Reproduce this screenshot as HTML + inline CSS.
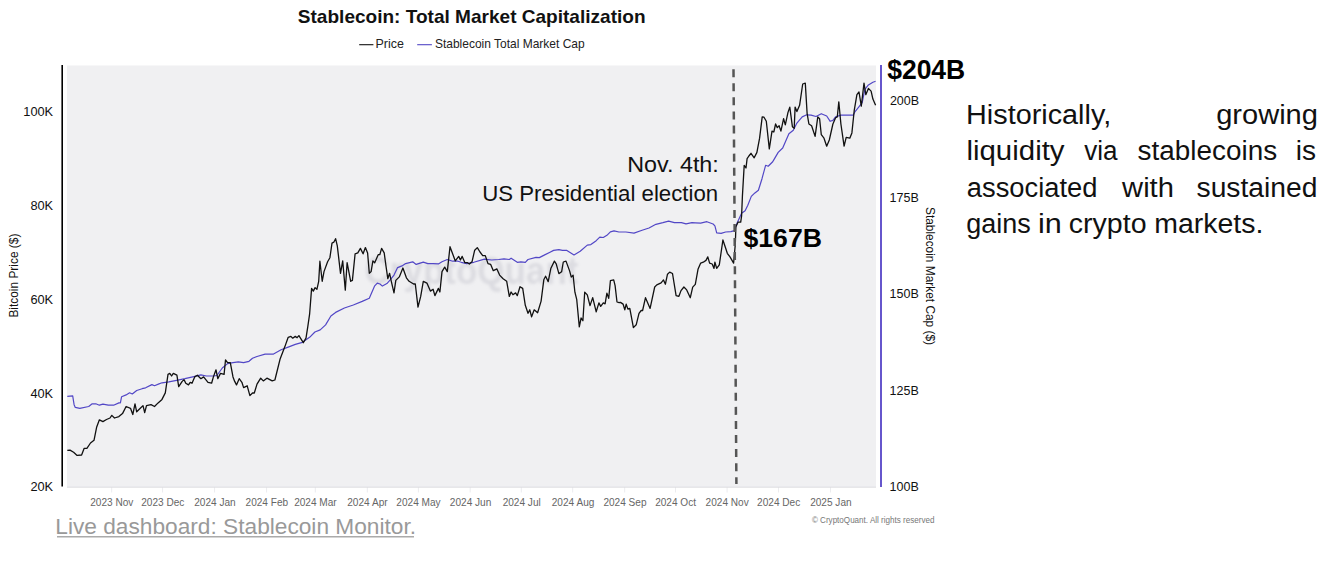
<!DOCTYPE html>
<html><head><meta charset="utf-8"><style>
html,body{margin:0;padding:0;background:#fff;width:1326px;height:562px;overflow:hidden}
svg{position:absolute;left:0;top:0;font-family:"Liberation Sans", sans-serif}
</style></head><body>
<svg width="1326" height="562" viewBox="0 0 1326 562">
<rect x="67" y="65.5" width="809" height="421.5" fill="#f0f0f2"/>
<defs><filter id="bl" x="-10%" y="-50%" width="120%" height="200%"><feGaussianBlur stdDeviation="1.8"/></filter></defs>
<text x="364.60" y="284" font-size="38" font-weight="bold" fill="#dcdce1" textLength="213.87" lengthAdjust="spacingAndGlyphs" filter="url(#bl)">CryptoQuant</text>
<line x1="111.7" y1="487" x2="111.7" y2="492.5" stroke="#ececef" stroke-width="1"/>
<text x="90.20" y="506" font-size="11.8" font-weight="normal" fill="#666" textLength="43.14" lengthAdjust="spacingAndGlyphs" >2023 Nov</text>
<line x1="162.6" y1="487" x2="162.6" y2="492.5" stroke="#ececef" stroke-width="1"/>
<text x="141.22" y="506" font-size="11.8" font-weight="normal" fill="#666" textLength="43.14" lengthAdjust="spacingAndGlyphs" >2023 Dec</text>
<line x1="214.6" y1="487" x2="214.6" y2="492.5" stroke="#ececef" stroke-width="1"/>
<text x="194.24" y="506" font-size="11.8" font-weight="normal" fill="#666" textLength="41.47" lengthAdjust="spacingAndGlyphs" >2024 Jan</text>
<line x1="266.6" y1="487" x2="266.6" y2="492.5" stroke="#ececef" stroke-width="1"/>
<text x="245.56" y="506" font-size="11.8" font-weight="normal" fill="#666" textLength="42.58" lengthAdjust="spacingAndGlyphs" >2024 Feb</text>
<line x1="315.3" y1="487" x2="315.3" y2="492.5" stroke="#ececef" stroke-width="1"/>
<text x="294.14" y="506" font-size="11.8" font-weight="normal" fill="#666" textLength="42.57" lengthAdjust="spacingAndGlyphs" >2024 Mar</text>
<line x1="367.3" y1="487" x2="367.3" y2="492.5" stroke="#ececef" stroke-width="1"/>
<text x="347.26" y="506" font-size="11.8" font-weight="normal" fill="#666" textLength="40.34" lengthAdjust="spacingAndGlyphs" >2024 Apr</text>
<line x1="418.4" y1="487" x2="418.4" y2="492.5" stroke="#ececef" stroke-width="1"/>
<text x="396.33" y="506" font-size="11.8" font-weight="normal" fill="#666" textLength="44.25" lengthAdjust="spacingAndGlyphs" >2024 May</text>
<line x1="470.2" y1="487" x2="470.2" y2="492.5" stroke="#ececef" stroke-width="1"/>
<text x="449.84" y="506" font-size="11.8" font-weight="normal" fill="#666" textLength="41.47" lengthAdjust="spacingAndGlyphs" >2024 Jun</text>
<line x1="521.3" y1="487" x2="521.3" y2="492.5" stroke="#ececef" stroke-width="1"/>
<text x="502.64" y="506" font-size="11.8" font-weight="normal" fill="#666" textLength="38.10" lengthAdjust="spacingAndGlyphs" >2024 Jul</text>
<line x1="572.7" y1="487" x2="572.7" y2="492.5" stroke="#ececef" stroke-width="1"/>
<text x="551.78" y="506" font-size="11.8" font-weight="normal" fill="#666" textLength="42.59" lengthAdjust="spacingAndGlyphs" >2024 Aug</text>
<line x1="624.7" y1="487" x2="624.7" y2="492.5" stroke="#ececef" stroke-width="1"/>
<text x="603.39" y="506" font-size="11.8" font-weight="normal" fill="#666" textLength="43.15" lengthAdjust="spacingAndGlyphs" >2024 Sep</text>
<line x1="675.5" y1="487" x2="675.5" y2="492.5" stroke="#ececef" stroke-width="1"/>
<text x="655.14" y="506" font-size="11.8" font-weight="normal" fill="#666" textLength="40.89" lengthAdjust="spacingAndGlyphs" >2024 Oct</text>
<line x1="727.1" y1="487" x2="727.1" y2="492.5" stroke="#ececef" stroke-width="1"/>
<text x="705.60" y="506" font-size="11.8" font-weight="normal" fill="#666" textLength="43.14" lengthAdjust="spacingAndGlyphs" >2024 Nov</text>
<line x1="778.5" y1="487" x2="778.5" y2="492.5" stroke="#ececef" stroke-width="1"/>
<text x="757.12" y="506" font-size="11.8" font-weight="normal" fill="#666" textLength="43.14" lengthAdjust="spacingAndGlyphs" >2024 Dec</text>
<line x1="830.5" y1="487" x2="830.5" y2="492.5" stroke="#ececef" stroke-width="1"/>
<text x="810.14" y="506" font-size="11.8" font-weight="normal" fill="#666" textLength="41.47" lengthAdjust="spacingAndGlyphs" >2025 Jan</text>
<line x1="67" y1="487.2" x2="876" y2="487.2" stroke="#dcdce0" stroke-width="1"/>
<line x1="62.2" y1="65" x2="62.2" y2="486.5" stroke="#000" stroke-width="1.6"/>
<line x1="881" y1="65" x2="881" y2="487" stroke="#6656cc" stroke-width="2"/>
<text x="23.27" y="116" font-size="12.8" font-weight="normal" fill="#111" textLength="29.89" lengthAdjust="spacingAndGlyphs" >100K</text>
<text x="30.38" y="209.75" font-size="12.8" font-weight="normal" fill="#111" textLength="22.78" lengthAdjust="spacingAndGlyphs" >80K</text>
<text x="30.38" y="303.5" font-size="12.8" font-weight="normal" fill="#111" textLength="22.78" lengthAdjust="spacingAndGlyphs" >60K</text>
<text x="30.38" y="397.5" font-size="12.8" font-weight="normal" fill="#111" textLength="22.78" lengthAdjust="spacingAndGlyphs" >40K</text>
<text x="30.38" y="491" font-size="12.8" font-weight="normal" fill="#111" textLength="22.78" lengthAdjust="spacingAndGlyphs" >20K</text>
<text x="889.88" y="105" font-size="12.5" font-weight="normal" fill="#111" textLength="29.19" lengthAdjust="spacingAndGlyphs" >200B</text>
<text x="889.56" y="201.5" font-size="12.5" font-weight="normal" fill="#111" textLength="29.19" lengthAdjust="spacingAndGlyphs" >175B</text>
<text x="889.56" y="298" font-size="12.5" font-weight="normal" fill="#111" textLength="29.19" lengthAdjust="spacingAndGlyphs" >150B</text>
<text x="889.56" y="394.6" font-size="12.5" font-weight="normal" fill="#111" textLength="29.19" lengthAdjust="spacingAndGlyphs" >125B</text>
<text x="889.56" y="491.1" font-size="12.5" font-weight="normal" fill="#111" textLength="29.19" lengthAdjust="spacingAndGlyphs" >100B</text>
<text transform="translate(17.8,275.6) rotate(-90)" font-size="12.2" fill="#111" text-anchor="middle" textLength="84" lengthAdjust="spacingAndGlyphs">Bitcoin Price ($)</text>
<text transform="translate(925.6,276) rotate(90)" font-size="12.2" fill="#111" text-anchor="middle" textLength="138" lengthAdjust="spacingAndGlyphs">Stablecoin Market Cap ($)</text>
<path d="M67.3,396.3 L72.7,395.8 L74.1,404.7 L75.3,407.4 L79.8,408.3 L88.7,406.5 L92.2,403.8 L95.8,403.8 L99.4,405.2 L102.9,404.2 L108.3,405.2 L113.6,405.2 L118.9,402.9 L120.4,402.9 L121.6,396.7 L126.1,394.9 L129.6,392.8 L132.3,394.0 L136.7,390.5 L142.1,388.7 L145.6,387.8 L151.9,384.6 L154.5,385.7 L159.0,383.9 L162.0,382.8 L168.9,381.9 L177.8,380.1 L184.9,378.7 L193.8,376.6 L200.9,374.8 L206.3,376.0 L213.4,376.0 L216.9,375.5 L222.3,368.0 L227.6,363.6 L233.0,362.7 L238.3,361.8 L243.6,362.7 L249.0,361.3 L252.5,358.3 L257.0,356.5 L265.1,354.2 L273.1,354.2 L281.1,349.8 L288.2,347.1 L295.3,344.4 L302.4,342.3 L309.6,337.3 L314.9,332.0 L320.2,329.9 L325.6,324.9 L330.9,316.0 L335.6,312.4 L344.4,308.0 L353.3,305.0 L362.2,301.4 L369.3,298.2 L374.7,285.8 L377.3,283.1 L380.0,284.0 L382.4,286.1 L386.9,283.6 L390.4,279.6 L394.0,275.1 L397.6,267.6 L402.0,265.9 L405.6,263.6 L412.7,261.8 L416.2,264.4 L423.3,262.1 L427.8,263.6 L433.1,263.6 L438.4,263.9 L442.0,261.8 L447.3,259.5 L452.7,261.2 L458.0,261.2 L461.3,262.3 L466.7,263.6 L473.8,262.3 L484.4,259.1 L491.6,260.0 L498.7,259.5 L504.0,258.8 L509.3,259.5 L511.1,258.2 L517.3,262.3 L520.9,261.8 L525.3,262.3 L528.0,259.5 L536.0,257.3 L539.3,257.6 L544.7,254.9 L550.0,252.2 L553.6,250.4 L558.9,249.6 L562.4,250.4 L566.9,250.4 L574.0,254.9 L580.2,251.3 L587.3,245.1 L590.9,244.6 L596.2,240.7 L599.8,237.1 L603.3,237.5 L606.9,235.3 L610.4,231.8 L614.0,230.9 L618.9,232.0 L625.9,232.0 L634.0,233.1 L642.1,230.3 L649.0,228.0 L655.9,224.3 L662.9,222.7 L668.6,221.1 L674.4,222.7 L681.4,222.7 L686.0,223.9 L692.0,222.7 L695.3,222.8 L700.7,223.1 L706.9,221.7 L713.1,224.0 L714.9,225.8 L716.7,232.9 L721.1,233.4 L725.6,232.0 L730.9,231.6 L734.4,230.6 L737.1,223.1 L741.6,213.3 L745.1,210.7 L747.8,205.3 L751.3,196.4 L754.9,192.9 L758.4,190.2 L762.0,178.7 L765.6,165.3 L768.2,166.2 L772.7,161.8 L773.8,159.9 L778.2,152.4 L782.7,148.0 L788.9,133.8 L793.3,130.2 L796.9,123.1 L802.2,116.9 L806.7,114.8 L811.1,115.1 L816.0,116.5 L821.3,113.7 L826.7,116.0 L830.2,121.3 L832.9,120.4 L835.6,116.9 L840.9,115.1 L848.0,115.1 L853.3,115.1 L855.1,111.6 L858.7,107.1 L862.2,102.7 L864.9,89.3 L868.4,84.9 L872.9,82.2 L875.6,81.3" fill="none" stroke="#5247c6" stroke-width="1.2" stroke-linejoin="round"/>
<path d="M67.3,450.4 L70.0,450.1 L73.6,452.2 L77.1,455.4 L81.6,455.0 L84.2,448.3 L86.9,448.3 L90.5,443.0 L94.0,440.3 L96.7,426.9 L99.4,419.8 L102.9,421.6 L106.5,419.5 L110.0,418.0 L111.8,415.4 L114.5,418.0 L118.9,416.6 L122.5,413.6 L126.1,406.5 L130.5,408.3 L132.8,414.5 L135.0,403.8 L136.7,411.8 L140.3,408.3 L143.0,405.6 L144.7,412.7 L146.5,405.6 L151.0,404.7 L154.5,406.5 L158.1,402.9 L162.0,399.4 L165.3,392.9 L168.0,374.3 L169.8,373.4 L171.6,376.0 L173.3,373.4 L176.9,375.2 L178.7,386.7 L182.2,381.4 L184.0,379.6 L185.8,383.2 L188.5,384.9 L190.2,382.3 L192.0,383.2 L194.7,376.9 L197.4,375.2 L200.9,378.7 L203.6,376.9 L208.0,382.3 L211.6,383.2 L213.4,376.9 L216.0,369.8 L217.8,378.7 L220.5,373.4 L224.1,374.3 L225.5,360.0 L227.6,362.7 L230.3,362.7 L233.0,376.9 L234.7,381.4 L236.5,384.9 L239.2,378.7 L241.9,382.3 L243.6,387.6 L247.2,385.8 L249.9,395.6 L252.5,393.0 L254.3,393.0 L257.0,384.1 L260.7,378.2 L263.3,380.9 L266.9,378.2 L272.2,380.9 L274.9,380.0 L280.2,358.7 L284.7,347.1 L288.2,337.3 L290.9,336.4 L292.7,338.2 L295.3,336.4 L297.1,337.7 L298.9,335.6 L303.3,342.7 L306.0,338.2 L307.8,326.7 L309.6,314.2 L311.6,288.4 L313.3,291.1 L315.1,287.6 L316.9,289.3 L318.7,281.3 L319.9,261.2 L322.2,281.3 L324.0,271.6 L327.6,261.8 L329.9,257.7 L332.0,243.1 L333.8,242.2 L335.6,238.7 L337.3,245.8 L340.5,273.3 L342.7,260.9 L345.3,290.2 L347.1,262.7 L350.7,281.3 L352.4,280.4 L355.1,253.8 L357.8,252.9 L360.4,248.4 L363.1,253.8 L365.4,247.6 L367.6,252.9 L369.3,273.3 L371.1,271.6 L372.9,260.9 L374.7,262.7 L378.2,254.7 L379.8,254.7 L381.6,248.4 L384.2,252.9 L386.0,266.2 L387.8,278.7 L389.6,273.3 L391.3,281.3 L394.0,292.9 L395.8,280.4 L399.3,276.9 L402.9,268.0 L406.4,277.8 L409.1,281.3 L413.6,284.0 L415.3,284.0 L418.0,307.1 L420.7,296.4 L423.3,281.3 L426.9,283.1 L430.4,291.1 L433.1,289.3 L434.9,295.6 L438.4,288.4 L439.9,292.0 L442.0,271.6 L444.7,267.1 L447.3,271.6 L450.0,246.7 L455.3,260.9 L458.7,256.4 L460.4,260.0 L462.2,256.4 L464.9,262.7 L467.6,262.7 L469.3,264.1 L472.0,261.8 L474.7,250.2 L477.3,247.6 L480.0,252.0 L482.7,255.6 L485.3,255.6 L488.0,263.6 L490.7,264.4 L493.3,270.7 L496.9,268.9 L499.6,275.1 L503.1,278.7 L506.7,281.3 L509.3,296.4 L511.1,292.0 L512.9,294.7 L515.6,292.9 L517.3,295.6 L520.0,286.7 L522.7,288.4 L525.3,305.3 L528.0,313.3 L529.8,309.8 L531.6,316.9 L534.2,309.8 L537.6,312.7 L541.1,301.1 L543.8,279.8 L545.6,276.2 L548.2,281.6 L550.9,268.2 L554.4,261.1 L556.2,263.8 L558.9,273.6 L561.6,271.8 L563.3,262.0 L566.0,261.1 L569.6,270.9 L571.3,277.1 L573.1,275.3 L574.9,292.2 L576.7,299.3 L579.3,326.9 L581.1,318.0 L582.9,320.7 L584.7,292.2 L587.3,294.9 L590.0,305.6 L592.7,297.6 L596.2,311.8 L598.9,302.9 L600.7,306.4 L603.3,302.9 L605.1,303.8 L606.9,293.1 L608.7,298.4 L610.4,280.7 L613.7,279.9 L615.1,285.6 L617.0,302.0 L619.1,302.7 L620.5,302.4 L623.1,304.1 L624.8,309.8 L626.2,304.1 L627.9,309.1 L629.8,308.4 L633.4,327.6 L636.2,324.8 L639.0,313.4 L641.2,310.5 L642.6,310.5 L645.5,297.7 L650.1,308.4 L654.7,287.0 L656.8,284.9 L661.1,282.8 L663.5,279.9 L665.4,284.2 L667.5,274.2 L669.7,272.1 L672.5,273.5 L676.1,295.6 L678.9,296.3 L681.0,290.6 L683.9,287.0 L686.7,289.9 L690.3,297.7 L692.7,287.1 L695.3,284.4 L698.0,269.3 L700.7,263.1 L703.3,262.2 L706.0,260.4 L707.8,256.9 L709.6,263.1 L712.2,264.0 L714.0,268.4 L714.9,262.2 L716.7,268.4 L719.3,264.9 L722.9,240.0 L725.6,248.0 L727.3,253.3 L730.0,256.9 L733.6,263.1 L735.3,244.4 L735.9,226.7 L738.0,222.2 L740.7,222.2 L741.6,216.0 L742.4,196.4 L744.2,165.3 L746.0,168.0 L747.1,158.7 L748.9,156.0 L751.0,153.3 L754.2,157.8 L756.9,152.4 L759.6,138.2 L762.2,116.9 L764.0,117.2 L766.3,121.3 L769.3,148.9 L772.0,131.1 L773.8,132.0 L775.6,124.0 L777.3,127.6 L779.1,125.8 L780.9,131.1 L783.6,118.7 L785.3,124.9 L788.0,112.4 L789.8,107.1 L792.4,126.7 L794.2,128.4 L795.1,107.1 L796.9,111.6 L799.6,105.3 L802.7,84.0 L805.3,83.1 L807.1,113.3 L808.9,124.0 L811.6,125.8 L815.1,136.4 L817.8,116.9 L819.6,118.7 L821.3,134.7 L824.0,138.2 L826.7,146.2 L829.3,140.0 L832.9,124.0 L835.6,117.8 L837.3,116.9 L838.8,101.8 L840.9,124.0 L844.1,146.2 L846.2,137.3 L849.8,138.2 L851.9,132.9 L854.2,110.7 L856.9,94.7 L859.0,92.0 L861.3,106.2 L864.0,83.1 L865.8,94.7 L868.4,88.4 L871.1,91.1 L872.9,99.1 L875.6,105.3" fill="none" stroke="#111" stroke-width="1.3" stroke-linejoin="round"/>
<line x1="733.5" y1="69.2" x2="736.4" y2="484" stroke="#555" stroke-width="2.5" stroke-dasharray="8 6.07"/>
<text x="297.83" y="22.9" font-size="19" font-weight="bold" fill="#111" textLength="347.71" lengthAdjust="spacingAndGlyphs" >Stablecoin: Total Market Capitalization</text>
<line x1="359.2" y1="44.7" x2="373.4" y2="44.7" stroke="#111" stroke-width="1.1"/>
<text x="375.47" y="47.9" font-size="12.6" font-weight="normal" fill="#222" textLength="28.37" lengthAdjust="spacingAndGlyphs" >Price</text>
<line x1="417.2" y1="44.7" x2="431.9" y2="44.7" stroke="#5247c6" stroke-width="1.1"/>
<text x="434.96" y="47.9" font-size="12.6" font-weight="normal" fill="#222" textLength="149.73" lengthAdjust="spacingAndGlyphs" >Stablecoin Total Market Cap</text>
<text x="811.88" y="522.8" font-size="9" font-weight="normal" fill="#777" textLength="122.63" lengthAdjust="spacingAndGlyphs" >© CryptoQuant. All rights reserved</text>
<text x="627.28" y="172" font-size="21.8" font-weight="normal" fill="#111" textLength="91.53" lengthAdjust="spacingAndGlyphs" >Nov. 4th:</text>
<text x="482.18" y="200.9" font-size="21.8" font-weight="normal" fill="#111" textLength="235.96" lengthAdjust="spacingAndGlyphs" >US Presidential election</text>
<text x="743.47" y="246.5" font-size="26.6" font-weight="bold" fill="#000" textLength="78.52" lengthAdjust="spacingAndGlyphs" >$167B</text>
<text x="887.17" y="78.8" font-size="27" font-weight="bold" fill="#000" textLength="78.11" lengthAdjust="spacingAndGlyphs" >$204B</text>
<text x="55.33" y="533.8" font-size="22.3" font-weight="normal" fill="#999" textLength="360.70" lengthAdjust="spacingAndGlyphs" >Live dashboard: Stablecoin Monitor.</text>
<line x1="57" y1="536.8" x2="414" y2="536.8" stroke="#aaa" stroke-width="1.5"/>
<text x="966.02" y="123.9" font-size="27" font-weight="normal" fill="#111" textLength="145.18" lengthAdjust="spacingAndGlyphs" >Historically,</text>
<text x="1216.16" y="123.9" font-size="27" font-weight="normal" fill="#111" textLength="101.81" lengthAdjust="spacingAndGlyphs" >growing</text>
<text x="966.41" y="160.2" font-size="27" font-weight="normal" fill="#111" textLength="98.16" lengthAdjust="spacingAndGlyphs" >liquidity</text>
<text x="1084.13" y="160.2" font-size="27" font-weight="normal" fill="#111" textLength="33.32" lengthAdjust="spacingAndGlyphs" >via</text>
<text x="1137.63" y="160.2" font-size="27" font-weight="normal" fill="#111" textLength="139.46" lengthAdjust="spacingAndGlyphs" >stablecoins</text>
<text x="1295.71" y="160.2" font-size="27" font-weight="normal" fill="#111" textLength="20.27" lengthAdjust="spacingAndGlyphs" >is</text>
<text x="966.84" y="196.5" font-size="27" font-weight="normal" fill="#111" textLength="130.59" lengthAdjust="spacingAndGlyphs" >associated</text>
<text x="1122.07" y="196.5" font-size="27" font-weight="normal" fill="#111" textLength="51.88" lengthAdjust="spacingAndGlyphs" >with</text>
<text x="1196.52" y="196.5" font-size="27" font-weight="normal" fill="#111" textLength="120.87" lengthAdjust="spacingAndGlyphs" >sustained</text>
<text x="966.35" y="233.1" font-size="27" font-weight="normal" fill="#111" textLength="64.51" lengthAdjust="spacingAndGlyphs" >gains</text>
<text x="1037.94" y="233.1" font-size="27" font-weight="normal" fill="#111" textLength="23.80" lengthAdjust="spacingAndGlyphs" >in</text>
<text x="1068.79" y="233.1" font-size="27" font-weight="normal" fill="#111" textLength="77.78" lengthAdjust="spacingAndGlyphs" >crypto</text>
<text x="1154.18" y="233.1" font-size="27" font-weight="normal" fill="#111" textLength="109.13" lengthAdjust="spacingAndGlyphs" >markets.</text>
</svg>
</body></html>
